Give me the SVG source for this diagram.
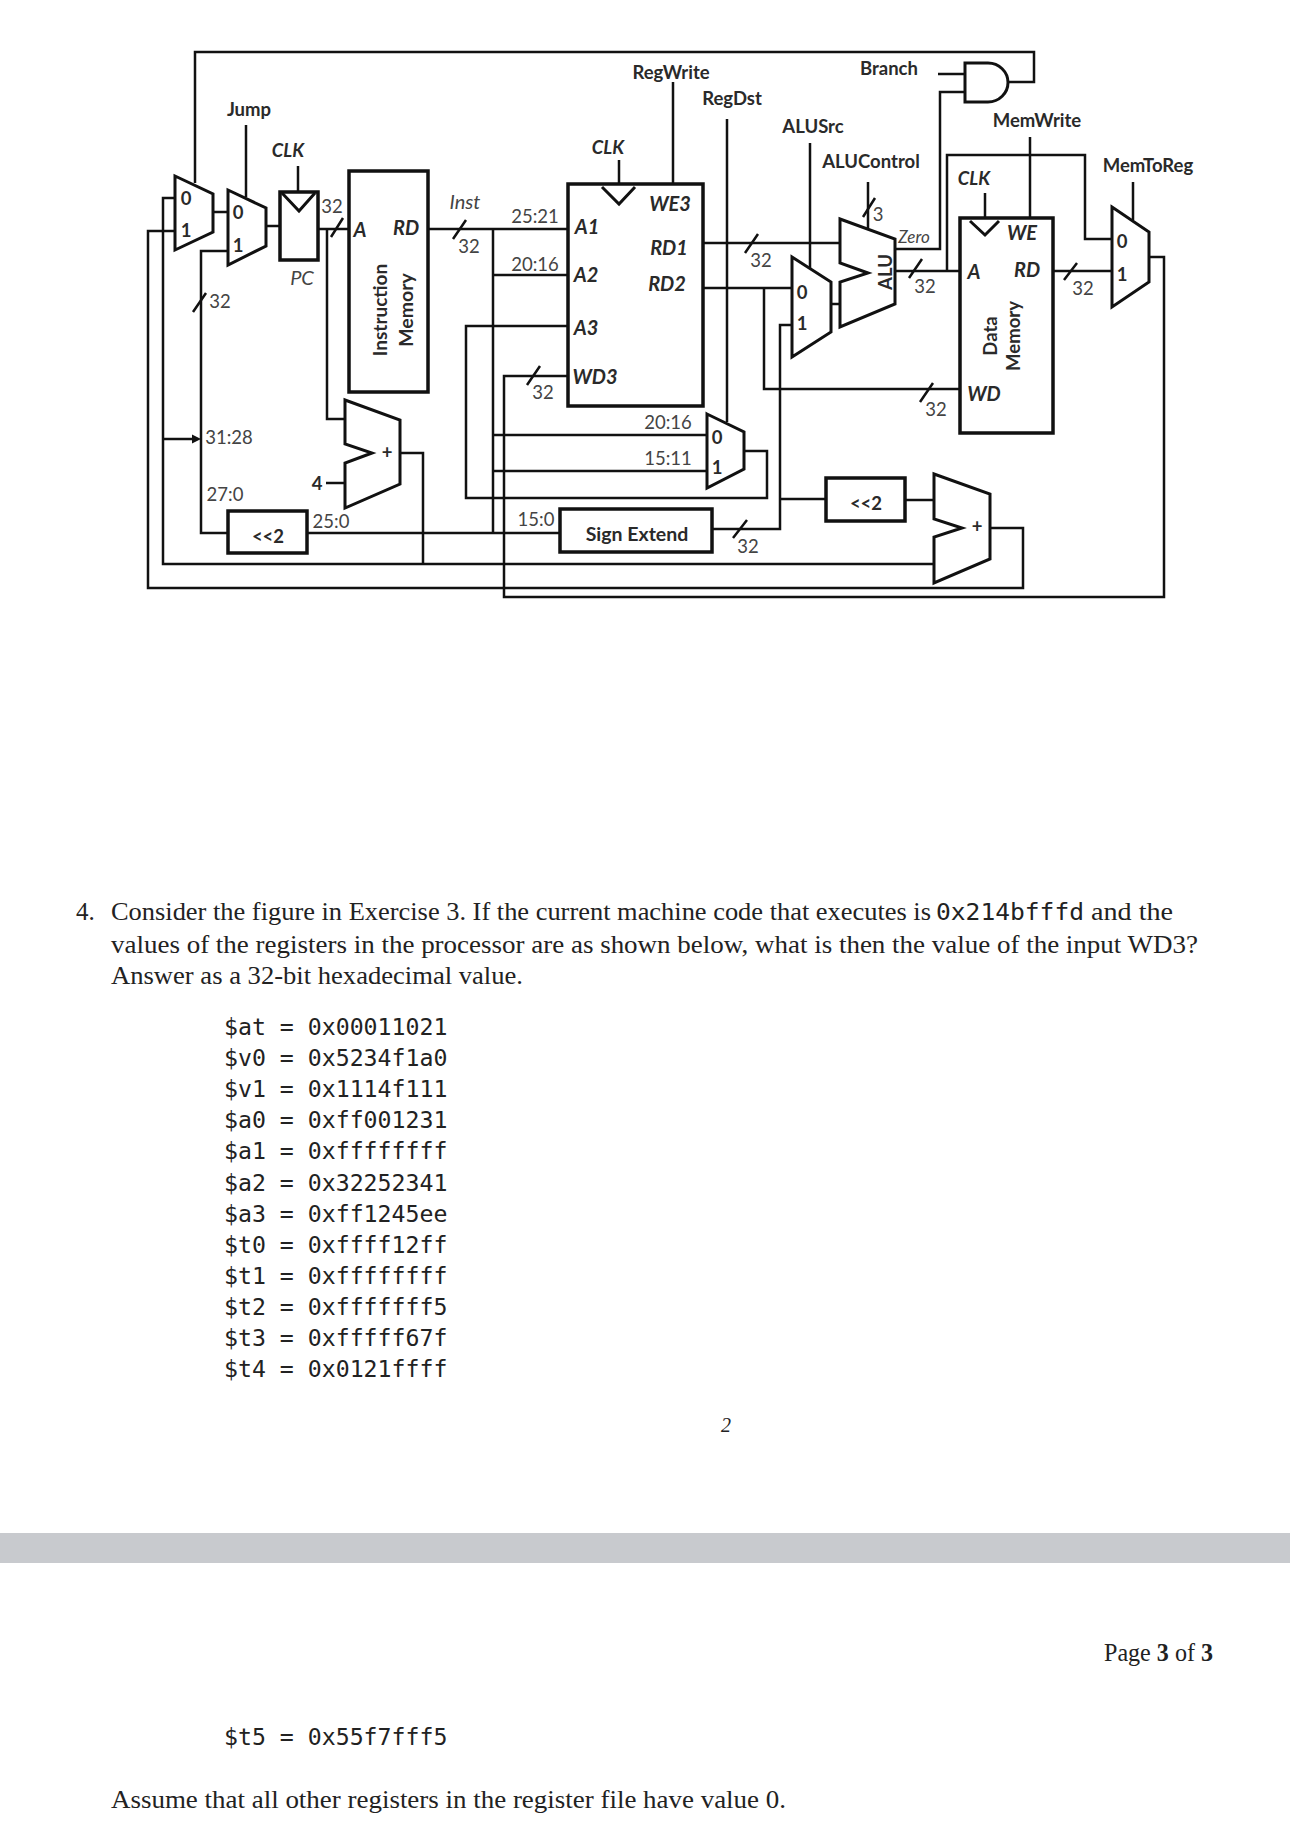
<svg xmlns="http://www.w3.org/2000/svg" width="1290" height="1835" viewBox="0 0 1290 1835">
<style>
text{font-family:Lato,"Open Sans",sans-serif;fill:#2a2a2a;text-anchor:middle;dominant-baseline:central}
.c{font-size:18.500px;font-weight:700}
.n{font-size:18.500px;fill:#444}
.i{font-size:20px;font-weight:700;font-style:italic}
.k{font-size:18.500px;font-weight:700;font-style:italic}
.l{font-size:20px;font-style:italic;fill:#444}
.m{font-size:18.500px;font-weight:700}
.w{fill:none;stroke:#111;stroke-width:2.500;stroke-linejoin:miter}
.s{fill:none;stroke:#111;stroke-width:2.500}
.b{fill:#fff;stroke:#111;stroke-width:3.500}
.t{fill:none;stroke:#111;stroke-width:3}
.body{font-family:"Liberation Serif",serif;font-size:25px;text-anchor:start;dominant-baseline:auto;fill:#222}
.mono{font-family:"DejaVu Sans Mono",monospace;font-size:23.200px;text-anchor:start;dominant-baseline:auto;fill:#222}
</style>
<rect width="1290" height="1835" fill="#fff"/>
<g id="connectors">
<path class="w" d="M195 183V52H1034V82H1008"/>
<path class="w" d="M938 74H965M965 92H940V249H895"/>
<path class="w" d="M175 198H163V564H934"/>
<path class="w" d="M175 231H148V588H1023V528H990"/>
<path class="w" d="M400 453H423V564"/>
<path class="w" d="M213 212H228M266 226H280"/>
<path class="w" d="M246 125V197"/>
<path class="w" d="M228 251H201V533H228"/>
<path class="w" d="M163 439H193"/>
<polygon points="201,439 192,434.500 192,443.500" fill="#111"/>
<path class="w" d="M298 166V192"/>
<path class="w" d="M318 229H349M327 229V419H345"/>
<path class="w" d="M326 483H345"/>
<path class="w" d="M307 533H560"/>
<path class="w" d="M428 229H567M493 229V533M493 275H567M493 435H707M493 471H707"/>
<path class="w" d="M567 326H466V498H767V451H744"/>
<path class="w" d="M567 376H504V597H1164V257H1150"/>
<path class="w" d="M619 160V184M673 82V184M727 119V422M810 143V268M868 182V228"/>
<path class="w" d="M703 243H840"/>
<path class="w" d="M703 288H792M764 288V389H960"/>
<path class="w" d="M792 325H780V529H712M780 499H826"/>
<path class="w" d="M905 500H934"/>
<path class="w" d="M831 304H840"/>
<path class="w" d="M895 271H960M947 271V155H1085V239H1112"/>
<path class="w" d="M1030 137V218M985 193V218M1133 182V220"/>
<path class="w" d="M1053 271H1112"/>
<path class="s" d="M193 312L206 293M331 237L343 218M453 239L466 220M527 385L540 366M745 253L758 234M733 538L747 520M863 217L875 198M909 278L922 259M920 402L933 383M1064 280L1077 263"/>
</g>
<g id="mux-pc-branch"><polygon class="t" points="175,176 213,194 213,232 175,250"/><text class="m" x="186" y="198">0</text><text class="m" x="186" y="230">1</text></g>
<g id="mux-pc-jump"><polygon class="t" points="228,190 266,208 266,246 228,265"/><text class="m" x="238" y="212">0</text><text class="m" x="238" y="245">1</text></g>
<g id="pc"><rect class="b" x="280" y="192" width="38" height="68"/><path class="t" d="M282 193L299 211L315 193"/><text class="l" x="302" y="277">PC</text></g>
<g id="instruction-memory"><rect class="b" x="349" y="171" width="79" height="221"/><text class="i" x="360" y="229">A</text><text class="i" x="406" y="227">RD</text><text class="m" transform="translate(379 310) rotate(-90)" style="font-size:19px">Instruction</text><text class="m" transform="translate(405 310) rotate(-90)" style="font-size:19.500px">Memory</text></g>
<g id="adder-pc"><polygon class="t" points="345,400 400,420 400,484 345,508 345,463 372,453 345,444"/><text class="m" x="387" y="452">+</text></g>
<g id="shift-jump"><rect class="b" x="228" y="511" width="79" height="42"/><text class="c" x="268" y="536">&lt;&lt;2</text></g>
<g id="register-file"><rect class="b" x="568" y="184" width="135" height="222"/><path class="t" d="M602 187L619 204L635 187"/><text class="i" x="587" y="226">A1</text><text class="i" x="586" y="274">A2</text><text class="i" x="586" y="327">A3</text><text class="i" x="595" y="376">WD3</text><text class="i" x="670" y="203">WE3</text><text class="i" x="669" y="247">RD1</text><text class="i" x="667" y="283">RD2</text></g>
<g id="mux-regdst"><polygon class="t" points="707,414 744,432 744,469 707,488"/><text class="m" x="717" y="437">0</text><text class="m" x="717" y="467">1</text></g>
<g id="sign-extend"><rect class="b" x="560" y="509" width="152" height="43"/><text class="c" x="637" y="533" style="font-size:19.500px">Sign Extend</text></g>
<g id="mux-alusrc"><polygon class="t" points="792,257 831,282 831,332 792,357"/><text class="m" x="802" y="292">0</text><text class="m" x="802" y="323">1</text></g>
<g id="alu"><polygon class="t" points="840,219 895,239 895,304 840,327 840,282 868,273 840,263"/><text class="m" transform="translate(885 272) rotate(-90)">ALU</text></g>
<g id="shift-branch"><rect class="b" x="826" y="478" width="79" height="43"/><text class="c" x="866" y="503">&lt;&lt;2</text></g>
<g id="adder-branch"><polygon class="t" points="934,474 990,494 990,559 934,583 934,537 962,528 934,519"/><text class="m" x="977" y="526">+</text></g>
<g id="and-gate"><path class="t" d="M965 63H988A20 19.500 0 0 1 988 102H965Z"/></g>
<g id="data-memory"><rect class="b" x="960" y="218" width="93" height="215"/><path class="t" d="M970 221L985 235L999 221"/><text class="i" x="1022" y="232">WE</text><text class="i" x="974" y="271">A</text><text class="i" x="1027" y="269">RD</text><text class="i" x="984" y="393">WD</text><text class="m" transform="translate(990 336) rotate(-90)">Data</text><text class="m" transform="translate(1013 336) rotate(-90)">Memory</text></g>
<g id="mux-memtoreg"><polygon class="t" points="1112,207 1149,232 1149,282 1112,307"/><text class="m" x="1122" y="241">0</text><text class="m" x="1122" y="274">1</text></g>
<g id="labels">
<text class="c" x="249" y="109">Jump</text>
<text class="k" x="288" y="150">CLK</text>
<text class="k" x="608" y="147">CLK</text>
<text class="k" x="974" y="178">CLK</text>
<text class="c" x="671" y="72">RegWrite</text>
<text class="c" x="732" y="98">RegDst</text>
<text class="c" x="813" y="126">ALUSrc</text>
<text class="c" x="871" y="161">ALUControl</text>
<text class="c" x="889" y="68">Branch</text>
<text class="c" x="1037" y="120">MemWrite</text>
<text class="c" x="1148" y="165">MemToReg</text>
<text class="l" x="465" y="201">Inst</text>
<text class="l" x="914" y="236" style="font-size:17px">Zero</text>
<text class="n" x="220" y="301">32</text>
<text class="n" x="332" y="206">32</text>
<text class="n" x="469" y="246">32</text>
<text class="n" x="543" y="392">32</text>
<text class="n" x="761" y="260">32</text>
<text class="n" x="748" y="546">32</text>
<text class="n" x="925" y="286">32</text>
<text class="n" x="936" y="409">32</text>
<text class="n" x="1083" y="288">32</text>
<text class="n" x="878" y="214">3</text>
<text class="c" x="317" y="483">4</text>
<text class="n" x="229" y="437">31:28</text>
<text class="n" x="225" y="494">27:0</text>
<text class="n" x="331" y="521">25:0</text>
<text class="n" x="535" y="216">25:21</text>
<text class="n" x="535" y="264">20:16</text>
<text class="n" x="668" y="422">20:16</text>
<text class="n" x="668" y="458">15:11</text>
<text class="n" x="536" y="519">15:0</text>
</g>
<g id="page-text">
<text class="body" x="76" y="920">4.</text>
<text class="body" x="111" y="920" textLength="820" lengthAdjust="spacingAndGlyphs">Consider the figure in Exercise 3. If the current machine code that executes is</text>
<text class="mono" x="936" y="920" textLength="148" lengthAdjust="spacingAndGlyphs">0x214bfffd</text>
<text class="body" x="1091" y="920" textLength="82" lengthAdjust="spacingAndGlyphs">and the</text>
<text class="body" x="111" y="953" textLength="1087" lengthAdjust="spacingAndGlyphs">values of the registers in the processor are as shown below, what is then the value of the input WD3?</text>
<text class="body" x="111" y="984" textLength="412" lengthAdjust="spacingAndGlyphs">Answer as a 32-bit hexadecimal value.</text>
<text class="mono" x="224" y="1035">$at = 0x00011021</text>
<text class="mono" x="224" y="1066">$v0 = 0x5234f1a0</text>
<text class="mono" x="224" y="1097">$v1 = 0x1114f111</text>
<text class="mono" x="224" y="1128">$a0 = 0xff001231</text>
<text class="mono" x="224" y="1159">$a1 = 0xffffffff</text>
<text class="mono" x="224" y="1191">$a2 = 0x32252341</text>
<text class="mono" x="224" y="1222">$a3 = 0xff1245ee</text>
<text class="mono" x="224" y="1253">$t0 = 0xffff12ff</text>
<text class="mono" x="224" y="1284">$t1 = 0xffffffff</text>
<text class="mono" x="224" y="1315">$t2 = 0xfffffff5</text>
<text class="mono" x="224" y="1346">$t3 = 0xfffff67f</text>
<text class="mono" x="224" y="1377">$t4 = 0x0121ffff</text>
<text class="body" x="721" y="1432" style="font-style:italic;font-size:20px">2</text>
<rect x="0" y="1533" width="1290" height="30" fill="#c8cace"/>
<text class="body" x="1104" y="1661" textLength="109" lengthAdjust="spacingAndGlyphs">Page <tspan font-weight="700">3</tspan> of <tspan font-weight="700">3</tspan></text>
<text class="mono" x="224" y="1745">$t5 = 0x55f7fff5</text>
<text class="body" x="111" y="1808" textLength="675" lengthAdjust="spacingAndGlyphs">Assume that all other registers in the register file have value 0.</text>
</g>
</svg>
